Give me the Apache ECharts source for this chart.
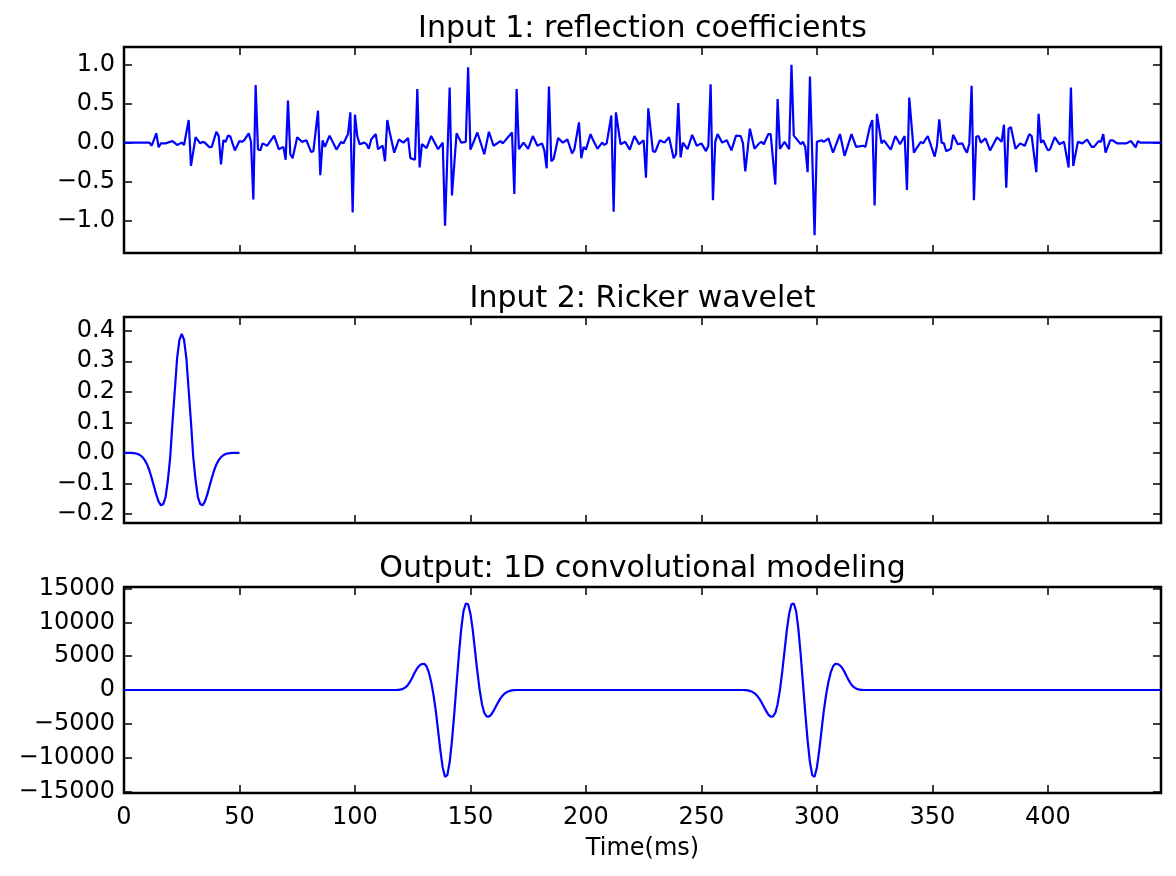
<!DOCTYPE html>
<html>
<head>
<meta charset="utf-8">
<script src="https://cdn.jsdelivr.net/npm/echarts@6/dist/echarts.min.js"></script>
<style>
html, body { margin: 0; padding: 0; background: #fff; }
#chart { width: 1176px; height: 876px; }
</style>
</head>
<body>
<div id="chart"></div>
<script>
// Input 1: reflection coefficients (turning points)
var rcTime = [0, 11, 12, 14, 15, 16, 18, 21, 23, 25, 26, 28, 29, 31, 33, 34, 35, 37, 38, 40,
  41, 42, 43, 44, 45, 46, 48, 50, 51, 52, 54, 55, 56, 57, 58, 59, 60, 62, 65, 67,
  69, 70, 71, 72, 73, 75, 76, 77, 79, 81, 82, 84, 85, 86, 87, 89, 92, 94, 95, 97,
  98, 99, 100, 101, 102, 104, 105, 106, 107, 109, 110, 112, 113, 114, 115, 117, 119, 121, 123, 124,
  126, 127, 128, 129, 131, 133, 136, 138, 139, 141, 142, 144, 146, 148, 149, 150, 151, 153, 156, 158,
  160, 163, 164, 168, 169, 170, 171, 173, 175, 177, 179, 181, 182, 183, 184, 185, 186, 188, 190, 192,
  194, 195, 197, 198, 199, 200, 202, 203, 205, 207, 208, 209, 211, 212, 213, 215, 217, 219, 221, 223,
  225, 226, 227, 229, 230, 232, 234, 236, 238, 239, 240, 241, 242, 244, 246, 248, 250, 252, 253, 254,
  255, 256, 257, 259, 261, 263, 265, 267, 268, 269, 271, 273, 275, 276, 277, 279, 280, 282, 283, 284,
  286, 288, 289, 290, 291, 293, 294, 295, 296, 297, 299, 300, 302, 303, 305, 307, 310, 312, 315, 317,
  320, 321, 323, 324, 325, 326, 328, 329, 332, 334, 336, 338, 339, 340, 342, 343, 345, 346, 348, 351,
  352, 353, 354, 355, 356, 358, 359, 361, 363, 364, 365, 366, 367, 368, 369, 370, 371, 373, 375, 378,
  380, 381, 382, 383, 384, 386, 388, 390, 392, 393, 395, 396, 397, 398, 400, 401, 403, 405, 407, 409,
  410, 411, 413, 415, 417, 419, 420, 422, 423, 424, 425, 427, 428, 430, 432, 434, 436, 438, 439, 440,
  449];
var rcValue = [0, 0, -0.04, 0.12, -0.06, -0.01, -0.01, 0.02, -0.03, 0, -0.03, 0.29, -0.30, 0.07, -0.01, 0.01, 0, -0.06, -0.055, 0.14,
  0.085, -0.28, 0.03, 0.01, 0.09, 0.08, -0.10, 0.02, 0.01, 0.03, 0.12, 0.01, -0.73, 0.74, -0.085, -0.10, -0.01, -0.04, 0.09, -0.085,
  -0.055, -0.22, 0.54, -0.15, -0.20, 0.07, 0.04, 0.01, 0.03, -0.12, -0.11, 0.41, -0.42, 0.03, -0.055, 0.09, -0.09, 0.01, -0.01, 0.11,
  0.39, -0.90, 0.36, 0.085, -0.02, 0, -0.02, -0.08, 0.04, 0.11, -0.085, -0.04, -0.24, 0.29, 0.14, -0.13, 0.04, 0, 0.06, -0.20,
  -0.22, 0.69, -0.32, -0.02, -0.07, 0.085, -0.085, 0, -1.07, 0.71, -0.68, 0.12, 0, 0.01, 0.97, -0.09, -0.02, 0.13, -0.15, 0.14,
  -0.04, 0.02, -0.01, 0.13, -0.66, 0.69, -0.085, 0, -0.08, 0.085, -0.04, -0.01, -0.10, -0.33, 0.72, -0.24, -0.21, 0.06, 0, 0.04,
  -0.14, -0.085, 0.26, -0.20, -0.055, -0.09, 0.11, 0.04, -0.08, 0, -0.03, -0.01, 0.35, -0.89, 0.39, -0.02, 0.01, -0.09, 0.085, -0.02,
  0.03, -0.45, 0.44, -0.11, -0.12, 0.03, 0, 0.07, -0.20, -0.15, 0.51, -0.19, 0, -0.085, 0.10, -0.04, -0.01, -0.11, -0.04, 0.75,
  -0.74, 0.01, 0.11, 0, 0.03, -0.10, 0.09, 0.085, -0.01, -0.37, 0.18, -0.08, -0.01, 0.01, -0.02, 0.11, 0.11, -0.54, 0.56, -0.08,
  0.01, -0.085, 1.00, 0.09, 0.055, -0.02, 0.01, -0.06, -0.38, 0.85, -1.19, 0.01, 0.03, 0.01, 0.055, -0.13, 0.11, -0.17, 0.11, -0.055,
  -0.04, -0.055, 0.21, 0.29, -0.81, 0.37, -0.01, 0.03, -0.09, 0.085, -0.02, 0.085, -0.61, 0.58, -0.13, -0.08, 0.01, -0.01, 0.085, -0.18,
  -0.04, 0.30, 0, -0.01, -0.11, -0.08, 0.10, -0.02, -0.01, -0.08, -0.13, -0.01, 0.73, -0.74, 0.075, 0.085, 0, 0.055, -0.10, 0.07,
  0.01, 0.23, -0.58, 0.18, 0.20, -0.08, -0.01, -0.04, 0.11, 0.085, -0.38, 0.37, 0, 0.03, -0.10, -0.085, 0.07, -0.02, 0.01, -0.32,
  0.71, -0.30, 0.01, -0.01, 0.04, -0.055, -0.055, 0.02, 0.01, 0.11, -0.13, 0.03, 0.03, -0.01, -0.01, -0.01, 0.02, -0.06, 0.02, 0,
  0];

// Input 2: Ricker wavelet, one value per ms from 0 to 50
var rickerTime = [0, 1, 2, 3, 4, 5, 6, 7, 8, 9, 10, 11, 12, 13, 14, 15, 16, 17, 18, 19, 20, 21, 22, 23, 24, 25,
  26, 27, 28, 29, 30, 31, 32, 33, 34, 35, 36, 37, 38, 39, 40, 41, 42, 43, 44, 45, 46, 47, 48, 49, 50];
var rickerValue = [0, 0, 0, 0, -0.001, -0.002, -0.004, -0.008, -0.014, -0.024, -0.038, -0.058, -0.083, -0.11, -0.138, -0.16, -0.172, -0.168, -0.145, -0.09, -0.015, 0.10, 0.205, 0.31, 0.37, 0.39,
  0.37, 0.31, 0.205, 0.10, -0.015, -0.09, -0.145, -0.168, -0.172, -0.16, -0.138, -0.11, -0.083, -0.058, -0.038, -0.024, -0.014, -0.008, -0.004, -0.002, -0.001, 0, 0, 0, 0];

// Output: convolution result
var outTime = [0, 117, 118, 119, 120, 121, 122, 123, 124, 125, 126, 127, 128, 129, 130, 131, 132, 133, 134, 135,
  136, 137, 138, 139, 140, 141, 142, 143, 144, 145, 146, 147, 148, 149, 150, 151, 152, 153, 154, 155,
  156, 157, 158, 159, 160, 161, 162, 163, 164, 165, 166, 167, 168, 169, 170,
  268, 269, 270, 271, 272, 273, 274, 275, 276, 277, 278, 279, 280, 281, 282, 283, 284, 285, 286, 287,
  288, 289, 290, 291, 292, 293, 294, 295, 296, 297, 298, 299, 300, 301, 302, 303, 304, 305, 306, 307,
  308, 309, 310, 311, 312, 313, 314, 315, 316, 317, 318, 319, 320, 321, 449];
var outValue = [0, 0, 10, 30, 80, 200, 420, 780, 1300, 1950, 2650, 3250, 3650, 3850, 3870, 3500, 2600, 1200, -700, -3100,
  -6000, -9000, -11500, -12850, -12600, -10700, -7500, -3500, 900, 5200, 9000, 11700, 12800, 12700, 11300, 8900, 5800, 2700, 0, -2100,
  -3400, -3900, -3950, -3650, -3100, -2450, -1800, -1250, -800, -480, -270, -140, -60, -25, 0,
  0, -25, -60, -140, -270, -480, -800, -1250, -1800, -2450, -3100, -3650, -3950, -3900, -3400, -2100, 0, 2700, 5800, 8900,
  11300, 12700, 12800, 11700, 9000, 5200, 900, -3500, -7500, -10700, -12600, -12850, -11500, -9000, -6000, -3100, -700, 1200, 2600, 3500,
  3870, 3850, 3650, 3250, 2650, 1950, 1300, 780, 420, 200, 80, 30, 10, 0, 0];

var titles = ['Input 1: reflection coefficients', 'Input 2: Ricker wavelet', 'Output: 1D convolutional modeling'];
var xTicks = [0, 50, 100, 150, 200, 250, 300, 350, 400];
var yTicks = [
  [-1.0, -0.5, 0.0, 0.5, 1.0],
  [-0.2, -0.1, 0.0, 0.1, 0.2, 0.3, 0.4],
  [-15000, -10000, -5000, 0, 5000, 10000, 15000]
];
var yRange = [[-1.42, 1.23], [-0.23, 0.445], [-15250, 15250]];
var xMax = 449;

var FONT = 'DejaVu Sans';
var tops = [47, 317, 587];
var left = 124, width = 1037, height = 206;

function pairs(xs, ys) {
  return xs.map(function (x, i) { return [x, ys[i]]; });
}
function minus(s) { return s.replace('-', '\u2212'); }

var grids = [], xAxes = [], yAxes = [], graphics = [];
var tick = { show: true, inside: true, length: 8, lineStyle: { color: '#000', width: 1.5 } };

for (var i = 0; i < 3; i++) {
  grids.push({ left: left, top: tops[i], width: width, height: height,
    show: true, borderColor: '#000', borderWidth: 2.5, backgroundColor: '#fff' });
  ['bottom', 'top'].forEach(function (pos) {
    var main = pos === 'bottom';
    xAxes.push({
      type: 'value', gridIndex: i, position: pos, min: 0, max: xMax,
      axisLine: { show: false, onZero: false }, splitLine: { show: false },
      axisTick: Object.assign({ customValues: xTicks }, tick),
      axisLabel: { show: main && i === 2, customValues: xTicks, margin: 13,
        fontSize: 24, fontFamily: FONT, color: '#000' },
      name: main && i === 2 ? 'Time(ms)' : '', nameLocation: 'middle', nameGap: 44,
      nameTextStyle: { fontSize: 24, fontFamily: FONT, color: '#000' }
    });
  });
  (function (k) {
    ['left', 'right'].forEach(function (pos) {
      yAxes.push({
        type: 'value', gridIndex: k, position: pos, min: yRange[k][0], max: yRange[k][1],
        axisLine: { show: false, onZero: false }, splitLine: { show: false },
        axisTick: Object.assign({ customValues: yTicks[k] }, tick),
        axisLabel: { show: pos === 'left', customValues: yTicks[k], margin: 9,
          fontSize: 24, fontFamily: FONT, color: '#000',
          formatter: function (v) { return minus(k < 2 ? v.toFixed(1) : String(Math.round(v))); } }
      });
    });
  })(i);
  graphics.push({ type: 'text', x: left + width / 2, y: tops[i] - 18, silent: true,
    style: { text: titles[i], fontSize: 30, fontFamily: FONT, fill: '#000',
      align: 'center', verticalAlign: 'middle' } });
}

var data = [pairs(rcTime, rcValue), pairs(rickerTime, rickerValue), pairs(outTime, outValue)];
var series = data.map(function (d, i) {
  return { type: 'line', xAxisIndex: i * 2, yAxisIndex: i * 2, data: d,
    showSymbol: false, lineStyle: { color: '#0000ff', width: 2.2 }, z: 3 };
});

var chart = echarts.init(document.getElementById('chart'));
chart.setOption({
  animation: false,
  grid: grids,
  xAxis: xAxes,
  yAxis: yAxes,
  graphic: graphics,
  series: series
});
</script>
</body>
</html>
